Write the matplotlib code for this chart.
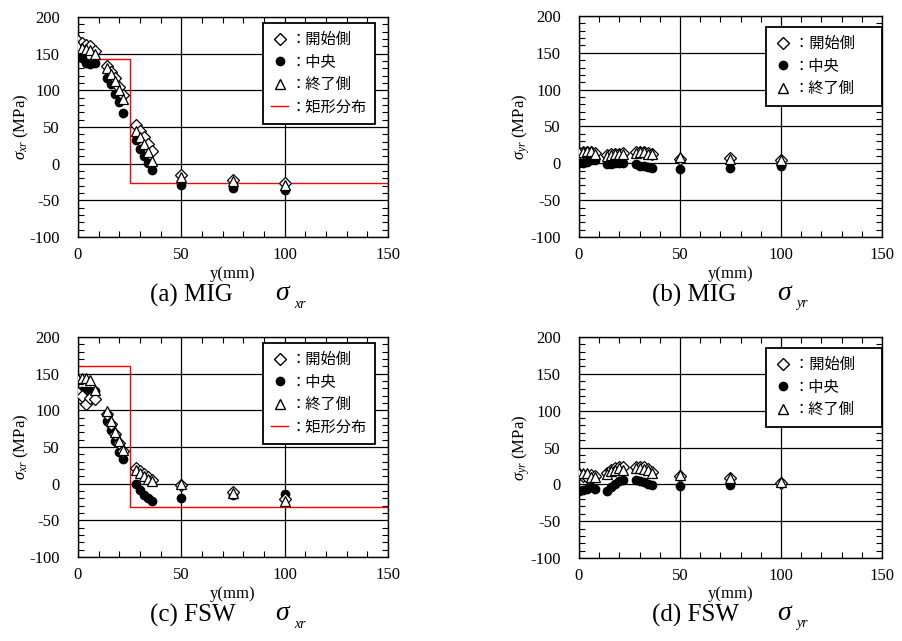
import numpy as np
import matplotlib
matplotlib.use("Agg")
import matplotlib.pyplot as plt
from matplotlib.lines import Line2D
from matplotlib.ticker import MultipleLocator

# =========================================================
# DATA
# =========================================================

y_pos = [0, 2, 4, 6, 8, 14, 16, 18, 20, 22, 28, 30, 32, 34, 36, 50, 75, 100]

# (a) MIG sigma_xr
a_start = [167, 165, 162, 160, 153, 133, 125, 117, 104, 93, 53, 44, 36, 27, 17, -16, -22, -27]
a_center = [149, 144, 137, 136, 137, 117, 109, 95, 84, 69, 32, 20, 11, 1, -9, -29, -33, -36]
a_end = [160, 158, 157, 155, 150, 131, 122, 113, 100, 88, 45, 36, 27, 16, 3, -18, -24, -29]

# (b) MIG sigma_yr
b_start = [14, 15, 16, 16, 14, 11, 12, 13, 13, 14, 15, 16, 16, 14, 13, 6, 7, 5]
b_center = [0, 1, 2, 4, 4, -1, -1, 0, 0, 0, -1, -3, -4, -5, -7, -8, -6, -3]
b_end = [15, 16, 17, 17, 13, 10, 11, 12, 13, 13, 14, 15, 15, 13, 12, 9, 6, 4]

# (c) FSW sigma_xr
c_start = [124, 119, 108, 117, 115, 95, 82, 68, 55, 45, 21, 17, 13, 9, 5, -2, -11, -21]
c_center = [125, 126, 127, 127, 127, 86, 73, 58, 43, 33, -1, -9, -15, -19, -23, -19, -15, -14]
c_end = [143, 144, 144, 142, 128, 99, 85, 71, 58, 46, 18, 14, 10, 7, 3, -1, -13, -23]

# (d) FSW sigma_yr
d_start = [14, 11, 10, 12, 11, 16, 20, 22, 24, 24, 24, 24, 23, 21, 17, 11, 8, 2]
d_center = [-9, -8, -6, -3, -6, -9, -3, 1, 4, 6, 6, 4, 3, 1, -1, -2, -1, 2]
d_end = [15, 16, 15, 10, 10, 14, 18, 20, 22, 20, 22, 22, 21, 19, 15, 12, 8, 3]

# rectangular distribution (step at 25 mm)
rect_y = [0, 25, 25, 150]
rect_a = [143, 143, -27, -27]
rect_c = [161, 161, -32, -32]

# =========================================================
# STYLE
# =========================================================

plt.rcParams['font.family'] = ['Liberation Serif', 'Noto Sans CJK JP']
plt.rcParams['mathtext.fontset'] = 'custom'
plt.rcParams['mathtext.rm'] = 'Liberation Serif'
plt.rcParams['mathtext.it'] = 'Liberation Serif:italic'
plt.rcParams['axes.unicode_minus'] = False

W, H = 903, 641
fig = plt.figure(figsize=(W / 100, H / 100), dpi=100)


def box(l, t, r, b):
    return [l / W, 1 - b / H, (r - l) / W, (b - t) / H]


def panel(rect, start, center, end, rect_vals, ylab, leg_anchor):
    ax = fig.add_axes(rect)
    ax.set_xlim(0, 150)
    ax.set_ylim(-100, 200)
    ax.xaxis.set_major_locator(MultipleLocator(50))
    ax.xaxis.set_minor_locator(MultipleLocator(10))
    ax.yaxis.set_major_locator(MultipleLocator(50))
    ax.yaxis.set_minor_locator(MultipleLocator(10))
    ax.tick_params(which='both', direction='in', top=True, right=True,
                   labelsize=12, width=0.8)
    ax.tick_params(which='major', length=0)
    ax.tick_params(axis='y', which='major', pad=13)
    ax.tick_params(axis='x', which='major', pad=7)
    ax.tick_params(which='minor', length=4)
    ax.grid(True, which='major', color='black', linewidth=0.9)
    for s in ax.spines.values():
        s.set_linewidth(1.0)

    if rect_vals is not None:
        ax.plot(rect_y, rect_vals, color='red', linewidth=1.0, zorder=2)

    ax.plot(y_pos, center, 'o', color='black', markersize=6, zorder=3)
    ax.plot(y_pos, start, 'D', markerfacecolor='white', markeredgecolor='black',
            markersize=6.2, markeredgewidth=0.9, zorder=4)
    ax.plot(y_pos, end, '^', markerfacecolor='white', markeredgecolor='black',
            markersize=7.5, markeredgewidth=0.9, zorder=5)

    # legend box keeps the same width with or without the red row
    pad = '' if rect_vals is not None else '\u3000 '
    handles = [
        Line2D([], [], marker='D', linestyle='none', markerfacecolor='white',
               markeredgecolor='black', markersize=6, label='：開始側' + pad),
        Line2D([], [], marker='o', linestyle='none', color='black',
               markersize=6, label='：中央'),
        Line2D([], [], marker='^', linestyle='none', markerfacecolor='white',
               markeredgecolor='black', markersize=7.5, label='：終了側'),
    ]
    if rect_vals is not None:
        handles.append(Line2D([], [], color='red', linewidth=1.0, label='：矩形分布'))

    leg = ax.legend(handles=handles, loc='upper right', bbox_to_anchor=leg_anchor,
                    borderaxespad=0, fancybox=False, framealpha=1,
                    edgecolor='black', handlelength=1.1, handletextpad=0.15,
                    labelspacing=0.35, borderpad=0.55,
                    prop={'family': 'Noto Sans CJK JP', 'size': 11})
    leg.get_frame().set_linewidth(1.3)
    leg.set_zorder(10)

    ax.set_ylabel(ylab, fontsize=12, labelpad=-1)
    ax.set_xlabel('y(mm)', fontsize=12, labelpad=2)
    return ax


panel(box(78, 17, 388, 237), a_start, a_center, a_end, rect_a,
      r'$\sigma_{xr}$ (MPa)', (1 - 13 / 310, 1 - 6 / 220))
panel(box(579, 16, 882, 237), b_start, b_center, b_end, None,
      r'$\sigma_{yr}$ (MPa)', (1.0, 1 - 11 / 221))
panel(box(78, 337, 388, 557), c_start, c_center, c_end, rect_c,
      r'$\sigma_{xr}$ (MPa)', (1 - 13 / 310, 1 - 6 / 220))
panel(box(579, 337, 882, 558), d_start, d_center, d_end, None,
      r'$\sigma_{yr}$ (MPa)', (1.0, 1 - 11 / 221))

# captions
captions = [
    (150, 295, '(a) MIG', 275, 'xr'),
    (652, 295, '(b) MIG', 777, 'yr'),
    (150, 615, '(c) FSW', 275, 'xr'),
    (652, 615, '(d) FSW', 777, 'yr'),
]
for x0, yc, label, xs, sub in captions:
    fig.text(x0 / W, 1 - yc / H, label, fontsize=18, ha='left', va='center')
    fig.text(xs / W, 1 - (yc - 2) / H, 'σ', fontsize=20, style='italic',
             ha='left', va='center')
    fig.text((xs + 19) / W, 1 - (yc + 9) / H, sub, fontsize=10, style='italic',
             ha='left', va='center')

plt.savefig("out.png", dpi=100)
